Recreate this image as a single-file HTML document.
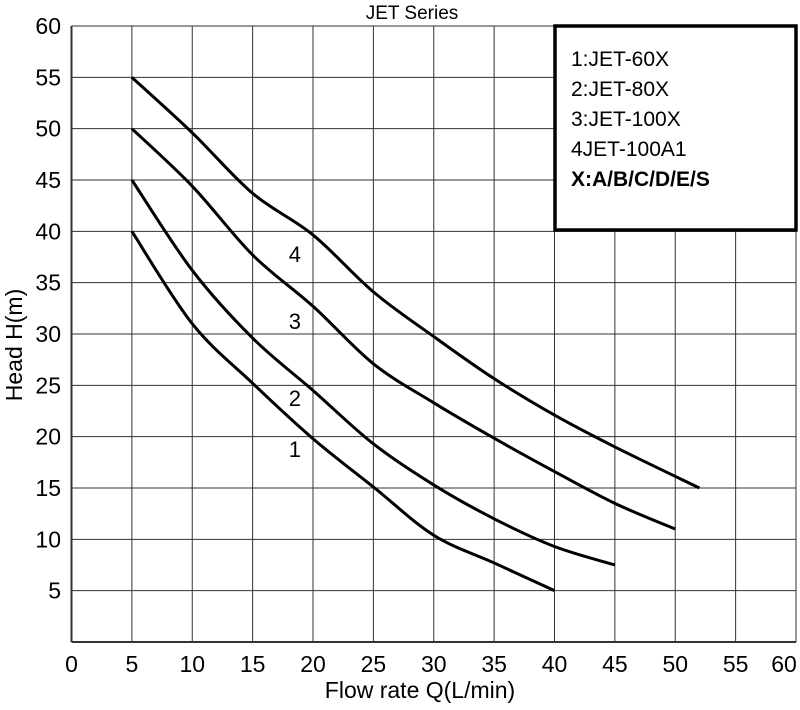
<!DOCTYPE html>
<html><head><meta charset="utf-8"><style>body{margin:0;background:#fff}svg{display:block;font-family:"Liberation Sans",sans-serif}</style></head>
<body>
<svg id="c" width="800" height="710"></svg>
<script>
const xTicks=[0,5,10,15,20,25,30,35,40,45,50,55,60];
const yTicks=[5,10,15,20,25,30,35,40,45,50,55,60];
const seriesNames=["1","2","3","4"];
const xs1=[5,10,15,20,25,30,35,40], ys1=[40,31,25.2,19.8,15.1,10.4,7.7,5];
const xs2=[5,10,15,20,25,30,35,40,45], ys2=[45,36.2,29.6,24.5,19.3,15.3,12,9.3,7.5];
const xs3=[5,10,15,20,25,30,35,40,45,50], ys3=[50,44.4,37.7,32.7,27.1,23.3,19.85,16.6,13.5,11];
const xs4=[5,10,15,20,25,30,35,40,45,52], ys4=[55,49.6,43.7,39.65,34.1,29.75,25.65,22.1,19,15];
const labelPos=[[18.5,18],[18.5,23],[18.5,30.5],[18.5,37]];
const L=71.5,R=796,T=26,B=642;
const X=v=>L+(R-L)*v/60, Y=v=>B-(B-T)*v/60;
const svg=document.getElementById('c'),NS="http://www.w3.org/2000/svg";
function mk(t,a,p){const e=document.createElementNS(NS,t);for(const k in a)e.setAttribute(k,a[k]);(p||svg).appendChild(e);return e;}
for(const v of xTicks){const e=mk('line',{x1:X(v),x2:X(v),y1:T,y2:B,stroke:'#333','stroke-width':v===0?2:1});


const t=mk('text',{x:Math.min(X(v),784),y:672,'font-size':23,'text-anchor':'middle'});t.textContent=v;

}
mk('line',{x1:L,x2:R,y1:B,y2:B,stroke:'#333','stroke-width':2});
for(const v of yTicks){const e=mk('line',{x1:L,x2:R,y1:Y(v),y2:Y(v),stroke:'#333','stroke-width':1});


const t=mk('text',{x:61,y:Y(v)+8,'font-size':23,'text-anchor':'end'});t.textContent=v;

}
function path(xs,ys){const p=xs.map((x,i)=>[X(x),Y(ys[i])]);let d="M"+p[0];
for(let i=0;i<p.length-1;i++){const p0=p[i-1]||p[i],p1=p[i],p2=p[i+1],p3=p[i+2]||p2;
const c1=[p1[0]+(p2[0]-p0[0])/6,p1[1]+(p2[1]-p0[1])/6],c2=[p2[0]-(p3[0]-p1[0])/6,p2[1]-(p3[1]-p1[1])/6];
d+=" C"+c1+" "+c2+" "+p2;}return d;}
[[xs1,ys1],[xs2,ys2],[xs3,ys3],[xs4,ys4]].forEach((s,i)=>{
const e=mk('path',{d:path(s[0],s[1]),fill:'none',stroke:'#000','stroke-width':3});


const t=mk('text',{x:X(labelPos[i][0]),y:Y(labelPos[i][1]),'font-size':22,'text-anchor':'middle'});t.textContent=seriesNames[i];

});
</script>
<svg style="position:absolute;left:0;top:0" width="800" height="710">
<text x="412" y="19" font-size="19" text-anchor="middle">JET Series</text>
<text x="420" y="698" font-size="23" text-anchor="middle">Flow rate Q(L/min)</text>
<text transform="translate(22,345) rotate(-90)" font-size="23" text-anchor="middle">Head H(m)</text>
<g>
<rect x="555" y="26" width="241" height="204" fill="#fff" stroke="#000" stroke-width="3.5"/>
<text x="571" y="66" font-size="21">1:JET-60X</text>
<text x="571" y="96" font-size="21">2:JET-80X</text>
<text x="571" y="126" font-size="21">3:JET-100X</text>
<text x="571" y="156" font-size="21">4JET-100A1</text>
<text x="571" y="186" font-size="21" font-weight="bold">X:A/B/C/D/E/S</text>
</g>
</svg>
</body></html>
